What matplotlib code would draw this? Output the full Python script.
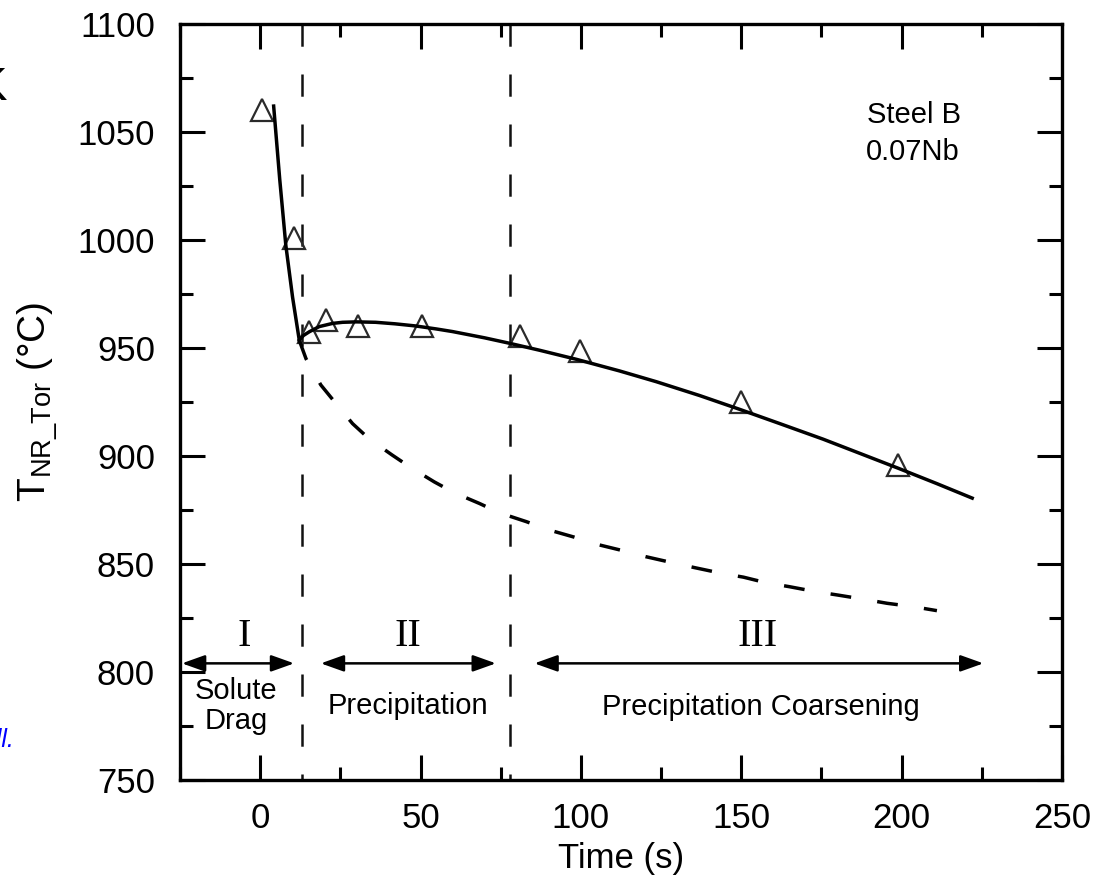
import matplotlib
matplotlib.use("Agg")
import matplotlib.pyplot as plt
from matplotlib.ticker import MultipleLocator

plt.rcParams['font.family'] = ['Liberation Sans', 'DejaVu Sans']
plt.rcParams['mathtext.fontset'] = 'custom'
plt.rcParams['mathtext.rm'] = 'Liberation Sans'
plt.rcParams['mathtext.it'] = 'Liberation Sans:italic'
plt.rcParams['lines.scale_dashes'] = False

# measured T_NR (torsion) for steel B
time_pts = [0.6, 10.6, 15.3, 20.6, 30.4, 50.5, 81, 99.8, 149.8, 199]
tnr_pts = [1060, 1001, 957.6, 963, 960, 960, 955.7, 948.5, 925, 896]

# solute drag branch
drag_t = [4.2, 6.1, 8.0, 10.1, 12.2]
drag_T = [1062, 1028, 997.5, 973.5, 953.5]

# precipitation / coarsening fit
fit_t = [12.2, 13.5, 15.3, 18.4, 22.6, 25.7, 30, 36, 42, 48.5, 55, 60, 70,
         77.7, 87, 98.5, 112, 123.5, 137, 149.5, 162, 175.5, 187, 199, 211, 222]
fit_T = [953.7, 955.8, 957.5, 959.9, 961.4, 961.9, 962.1, 961.9, 961.2, 960.2,
         958.8, 957.6, 954.7, 952.2, 949, 944.8, 939.4, 934.4, 928, 921.6, 915,
         907.8, 901.2, 894.3, 887.2, 880.5]

# extrapolated curve without precipitation
ext_t = [12.2, 14.3, 18.9, 23.4, 28.8, 34, 41.1, 47, 54.3, 60.5, 68.4, 74.6,
         83, 90.2, 98, 105, 113, 120.2, 128.5, 135.5, 143.8, 150.7, 157.8, 165,
         173.2, 180.2, 188.5, 195.5, 203.8, 211]
ext_T = [953.5, 945, 932.9, 924.7, 915, 907.9, 900.5, 894.6, 888, 883, 878,
         873.7, 869.6, 865.7, 862.4, 859.1, 856.2, 853.4, 850.6, 848.3, 845.7,
         843.9, 841.3, 839.5, 837.2, 835.6, 833.6, 831.8, 830.2, 828.4]

# stage boundaries and arrow spans
bounds = [13, 78]
stages = ['I', 'II', 'III']
stage_x = [-5, 45.9, 155]
spans = [(-24.4, 10.6), (18.9, 73.5), (85.5, 225.5)]

fig = plt.figure(figsize=(10.95, 8.83), dpi=100)
ax = fig.add_axes([180 / 1095, 1 - 780 / 883, 882 / 1095, 756 / 883])

for b in bounds:
    ax.plot([b, b], [1100, 750], color='#111111', lw=1.8, dashes=(16, 20),
            solid_capstyle='butt', zorder=1)

ax.plot(drag_t, drag_T, color='black', lw=2.5, zorder=3)
ax.plot(fit_t, fit_T, color='black', lw=2.5, zorder=3)
ax.plot(ext_t, ext_T, color='black', lw=2.5, dashes=(15, 19),
        dash_capstyle='butt', zorder=3)
ax.plot(time_pts, tnr_pts, linestyle='none', marker='^', markersize=16.5,
        markerfacecolor='none', markeredgecolor='#2a2a2a', markeredgewidth=1.6,
        zorder=2)

for (x0, x1) in spans:
    ax.annotate('', xy=(x1, 804), xytext=(x0, 804),
                arrowprops=dict(arrowstyle='<|-|>,head_length=1.4,head_width=0.5',
                                mutation_scale=10, color='black', lw=1.8,
                                shrinkA=0, shrinkB=0))

for s, x in zip(stages, stage_x):
    ax.text(x, 812, s, ha='center', va='baseline', fontsize=29,
            family=['Liberation Serif', 'DejaVu Serif'])

ax.text(-7.5, 787.5, 'Solute', ha='center', va='baseline', fontsize=21)
ax.text(-7.5, 773.6, 'Drag', ha='center', va='baseline', fontsize=21)
ax.text(46.2, 780.5, 'Precipitation', ha='center', va='baseline', fontsize=21)
ax.text(156, 780, 'Precipitation Coarsening', ha='center', va='baseline', fontsize=21)
ax.text(189.3, 1054, 'Steel B', ha='left', va='baseline', fontsize=21)
ax.text(189.0, 1037, '0.07Nb', ha='left', va='baseline', fontsize=21)

ax.set_xlim(-25, 250)
ax.set_ylim(750, 1100)
ax.xaxis.set_major_locator(MultipleLocator(50))
ax.xaxis.set_minor_locator(MultipleLocator(25))
ax.yaxis.set_major_locator(MultipleLocator(50))
ax.yaxis.set_minor_locator(MultipleLocator(25))
ax.tick_params(which='both', direction='in', top=True, right=True, width=2.2)
ax.tick_params(which='major', length=18, labelsize=25)
ax.tick_params(which='minor', length=9.5)
ax.tick_params(axis='x', which='major', pad=16)
ax.tick_params(axis='y', which='major', pad=18)
for sp in ax.spines.values():
    sp.set_linewidth(2.4)

ax.set_xlabel('Time (s)', fontsize=25)
ax.xaxis.set_label_coords(0.5, -0.104)
ax.xaxis.label.set_verticalalignment('center')
ax.set_ylabel(r'T$_{\rm NR\_Tor}$ (°C)', fontsize=28)
ax.yaxis.set_label_coords(-0.161, 0.5)
ax.yaxis.label.set_verticalalignment('center')

# clipped fragments at the page edge
fig.text(7 / 1095, 1 - 100 / 883, 'K', ha='right', va='baseline', fontsize=34)
fig.text(14 / 1095, 1 - 747 / 883, 'Hall.', ha='right', va='baseline',
         fontsize=18, color='blue', style='italic')

fig.savefig('out.png', dpi=100)
